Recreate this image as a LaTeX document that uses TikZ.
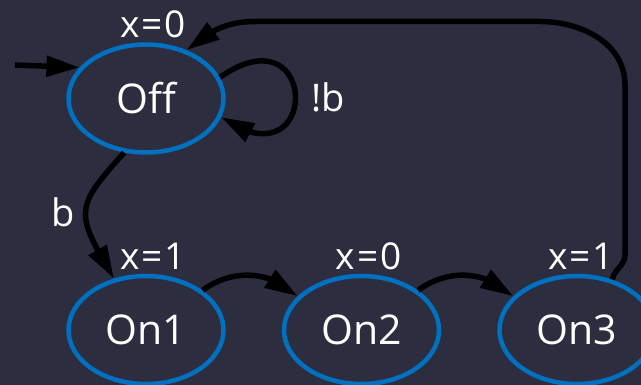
\documentclass[tikz,border=0pt]{standalone}
\usepackage{fontspec}
\setmainfont{Open Sans}
\usepackage{xcolor}
\usetikzlibrary{arrows.meta,bending,positioning,shapes.geometric}
\definecolor{bgdark}{RGB}{45,45,64}
\definecolor{stateblue}{RGB}{0,112,192}

\begin{document}
\begin{tikzpicture}[x=1pt, y=1pt, node distance=119pt and 56pt, st/.style={ellipse, draw=stateblue, line width=4.5pt, minimum width=155pt, minimum height=108pt, inner sep=0pt, text=white, font=\fontsize{41}{48}\selectfont}, outval/.style={text=white, inner sep=2pt, font=\fontsize{37}{44}\selectfont}, lbl/.style={text=white, font=\fontsize{38}{44}\selectfont}, arr/.style={-{Triangle[length=33pt,width=20pt,flex]}, line width=5.5pt, black}]
\fill[bgdark] (0,0) rectangle (641,385);
\useasboundingbox (0,0) rectangle (641,385);
\node[st] (off) at (146,286.5) {Off};
\node[st,below=of off] (on1) {On1};
\node[st,right=of on1] (on2) {On2};
\node[st,right=of on2] (on3) {On3};
% outputs over the states
\node[outval,above=2pt of off,xshift=7pt] (xoff) {x\kern2pt=\kern2pt0};
\node[outval,above=2pt of on1,xshift=7pt] (xon1) {x\kern2pt=\kern2pt1};
\node[outval,above=2pt of on2,xshift=7pt] (xon2) {x\kern2pt=\kern2pt0};
\node[outval,above=2pt of on3,xshift=4pt] (xon3) {x\kern2pt=\kern2pt1};
\coordinate (init) at (15,320);
\coordinate (rise) at (625,130);
\coordinate (bend1) at (625,300);
\coordinate (bend2) at (540,363.5);
\coordinate (back) at (255,363.5);
\draw[arr] (init)--(off.155);
\draw[arr] (off.16) .. controls +(100,70) and +(100,-70) .. node[lbl,right=10pt]{!b} (off.-14);
\draw[arr] (off.248) to[out=228,in=120,looseness=1.55] node[lbl,left=5pt]{b} (on1.122);
\foreach \a/\b in {on1/on2,on2/on3}{\draw[arr] (\a.35) to[bend left=40] (\b.152);}
\draw[arr] (on3.55) to[out=80,in=-90] (rise) -- (bend1) to[out=90,in=0] (bend2) -- (back) to[out=180,in=40] (off.50);
\end{tikzpicture}
\end{document}
